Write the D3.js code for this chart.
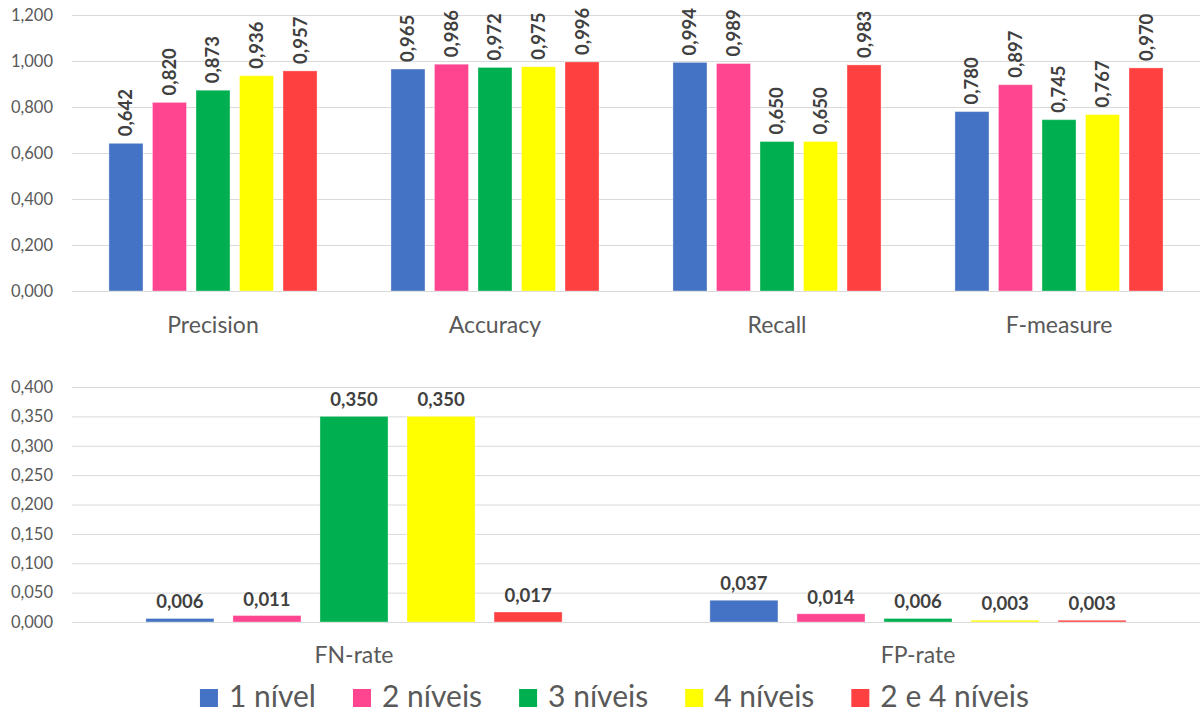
<!DOCTYPE html>
<html>
<head>
<meta charset="utf-8">
<script src="https://cdn.jsdelivr.net/npm/d3@7"></script>
<style>
  html, body { margin: 0; padding: 0; background: #ffffff; }
  svg { display: block; font-family: Lato, "Open Sans", sans-serif; }
</style>
</head>
<body>
<svg id="chart" width="1203" height="715"></svg>
<script>
// Series (classifier depth configurations) and their colours
const seriesNames = ["1 nível", "2 níveis", "3 níveis", "4 níveis", "2 e 4 níveis"];
const seriesColors = ["#4472C4", "#FF4590", "#00B050", "#FFFF00", "#FF4040"];

// Upper panel: quality metrics
const topCategories = ["Precision", "Accuracy", "Recall", "F-measure"];
const precisionValues = [0.642, 0.820, 0.873, 0.936, 0.957];
const accuracyValues  = [0.965, 0.986, 0.972, 0.975, 0.996];
const recallValues    = [0.994, 0.989, 0.650, 0.650, 0.983];
const fMeasureValues  = [0.780, 0.897, 0.745, 0.767, 0.970];
const topTicks = [0, 0.2, 0.4, 0.6, 0.8, 1.0, 1.2];

// Lower panel: error rates
const bottomCategories = ["FN-rate", "FP-rate"];
const fnRateValues = [0.006, 0.011, 0.350, 0.350, 0.017];
const fpRateValues = [0.037, 0.014, 0.006, 0.003, 0.003];
const bottomTicks = [0, 0.05, 0.1, 0.15, 0.2, 0.25, 0.3, 0.35, 0.4];

const topRows = [precisionValues, accuracyValues, recallValues, fMeasureValues];
const bottomRows = [fnRateValues, fpRateValues];

// Decimal comma formatting
const fmt = v => d3.format(".3f")(v).replace(".", ",");

const svg = d3.select("#chart");
const left = 72, right = 1200;

function panel(opts) {
  const { categories, rows, ticks, yTop, yBottom, maxY, rotateLabels, catPadding } = opts;
  const g = svg.append("g");

  const x0 = d3.scaleBand().domain(categories).range([left, right])
    .paddingInner(0.262).paddingOuter(0.131);
  const x1 = d3.scaleBand().domain(seriesNames).range([0, x0.bandwidth()])
    .paddingInner(0.218).paddingOuter(0);
  const y = d3.scaleLinear().domain([0, maxY]).range([yBottom, yTop]);

  // Gridlines + value axis
  const yAxis = d3.axisLeft(y).tickValues(ticks)
    .tickSizeInner(-(right - left)).tickSizeOuter(0).tickPadding(19)
    .tickFormat(fmt);
  const ya = g.append("g").attr("transform", `translate(${left},0)`).call(yAxis);
  ya.select(".domain").remove();
  ya.selectAll(".tick line").attr("stroke", "#D9D9D9").attr("stroke-width", 1);
  ya.selectAll(".tick text").attr("fill", "#595959").style("font-size", "16.5px")
    .style("font-family", "Lato, sans-serif");

  // Category axis
  const xAxis = d3.axisBottom(x0).tickSize(0).tickPadding(catPadding);
  const xa = g.append("g").attr("transform", `translate(0,${yBottom})`).call(xAxis);
  xa.select(".domain").remove();
  xa.selectAll(".tick text").attr("fill", "#595959").style("font-size", "23px")
    .style("font-family", "Lato, sans-serif");

  // Bars
  const groups = g.selectAll(".grp").data(categories.map((c, i) => ({ c, vals: rows[i] })))
    .join("g").attr("class", "grp")
    .attr("transform", d => `translate(${x0(d.c)},0)`);

  const items = d => d.vals.map((v, i) => ({ name: seriesNames[i], color: seriesColors[i], v }));

  groups.selectAll("rect").data(items).join("rect")
    .attr("x", d => x1(d.name))
    .attr("width", x1.bandwidth())
    .attr("y", d => y(d.v))
    .attr("height", d => y(0) - y(d.v))
    .attr("fill", d => d.color)
    .attr("stroke", "rgba(255,255,255,0.35)")
    .attr("stroke-width", 1);

  // Value labels
  const labels = groups.selectAll("text.val").data(items).join("text")
    .attr("class", "val")
    .attr("fill", "#404040")
    .style("font-weight", "bold")
    .style("font-size", "18.5px")
    .text(d => fmt(d.v));

  if (rotateLabels) {
    labels
      .attr("text-anchor", "start")
      .attr("dy", "0.35em")
      .attr("transform", d => `translate(${x1(d.name) + x1.bandwidth() / 2},${y(d.v) - 7}) rotate(-90)`);
  } else {
    labels
      .attr("text-anchor", "middle")
      .attr("x", d => x1(d.name) + x1.bandwidth() / 2)
      .attr("y", d => y(d.v) - 10);
  }
}

panel({ categories: topCategories, rows: topRows, ticks: topTicks,
        yTop: 15, yBottom: 291, maxY: 1.2, rotateLabels: true, catPadding: 26 });
panel({ categories: bottomCategories, rows: bottomRows, ticks: bottomTicks,
        yTop: 387, yBottom: 622, maxY: 0.4, rotateLabels: false, catPadding: 25 });

// Legend, centred below the lower panel
const legend = svg.append("g");
const sw = 18, sh = 18, gapText = 11, gapItem = 37;
const entries = legend.selectAll("g").data(seriesNames.map((n, i) => ({ n, c: seriesColors[i] })))
  .join("g");
entries.append("rect").attr("width", sw).attr("height", sh).attr("y", 689)
  .attr("fill", d => d.c);
entries.append("text").attr("x", sw + gapText).attr("y", 707)
  .attr("fill", "#595959").style("font-size", "30px")
  .text(d => d.n);
const widths = [];
entries.each(function () {
  const w = sw + gapText + d3.select(this).select("text").node().getComputedTextLength();
  widths.push(w);
});
const total = d3.sum(widths) + gapItem * (widths.length - 1);
let cursor = 614.5 - total / 2;
entries.attr("transform", (d, i) => {
  const t = `translate(${cursor},0)`;
  cursor += widths[i] + gapItem;
  return t;
});
</script>
</body>
</html>
